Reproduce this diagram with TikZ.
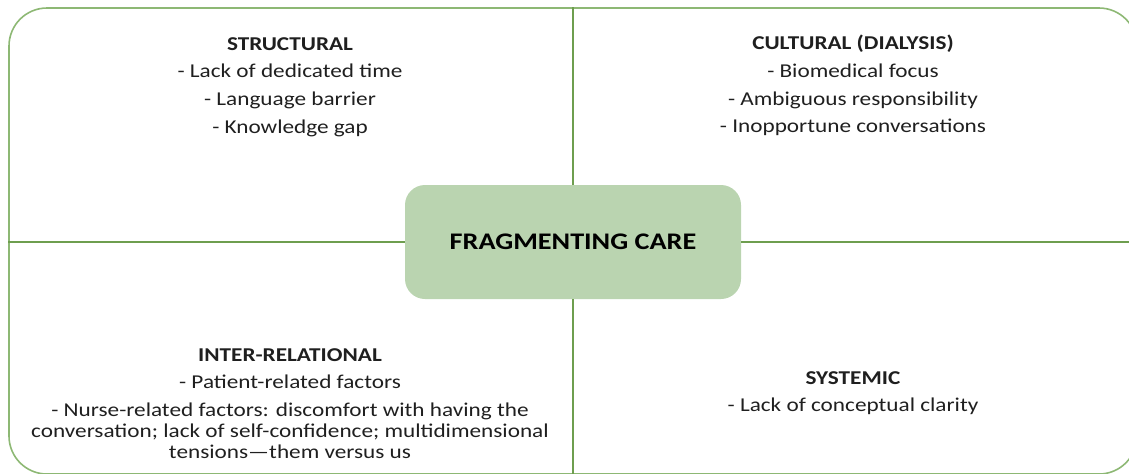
\documentclass[tikz,border=0pt]{standalone}
\usepackage{fontspec}
\setmainfont{Carlito}[FakeStretch=1.185]
\usetikzlibrary{positioning}
\definecolor{leafgreen}{HTML}{6E9E4F}
\definecolor{palegreen}{HTML}{BAD4B0}
\definecolor{rimgreen}{HTML}{8DB874}

\begin{document}
\begin{tikzpicture}[x=0.5pt,y=-0.5pt,
  frame/.style={draw=rimgreen, line width=0.8pt, rounded corners=19pt,
    minimum width=564pt, minimum height=233pt, inner sep=0pt},
  core/.style={fill=palegreen, rounded corners=10pt, minimum width=168pt,
    minimum height=57pt, font=\fontsize{11.9}{14}\selectfont\bfseries},
  spoke/.style={draw=leafgreen, line width=1pt},
  factor/.style={align=center, anchor=north, inner sep=0pt,
    font=\fontsize{9.8}{10.5}\selectfont, text=black!88}]
  \useasboundingbox (0,0) rectangle (1129,473);

  % outer frame and the central theme
  \node [frame] (frame) at (573,241) {};
  \node [core] (core) at (573,242) {FRAGMENTING CARE};

  % the four spokes out to the frame
  \path [spoke]
    (core.north) edge (core.north |- frame.north)
    (core.south) edge (core.south |- frame.south)
    (core.west)  edge (core.west -| frame.west)
    (core.east)  edge (core.east -| frame.east);

  % barriers, one group per quarter
  \node [factor] (struct) at (290,37) {\textbf{STRUCTURAL}\\[3.3pt]
    - Lack of dedicated time\\[3.3pt]
    - Language barrier\\[3.3pt]
    - Knowledge gap};
  \node [factor] (cult) at (853,35) {\textbf{CULTURAL (DIALYSIS)}\\[3.3pt]
    - Biomedical focus\\[3.3pt]
    - Ambiguous responsibility\\[3.3pt]
    - Inopportune conversations};
  \node [factor] (inter) at (290,348) {\textbf{INTER-RELATIONAL}\\[3.3pt]
    - Patient-related factors\\[3.3pt]
    - Nurse-related factors: discomfort with having the\\
    conversation; lack of self-confidence; multidimensional\\
    tensions—them versus us};
  \node [factor] (syst) at (853,371) {\textbf{SYSTEMIC}\\[3.3pt]
    - Lack of conceptual clarity};
\end{tikzpicture}
\end{document}
